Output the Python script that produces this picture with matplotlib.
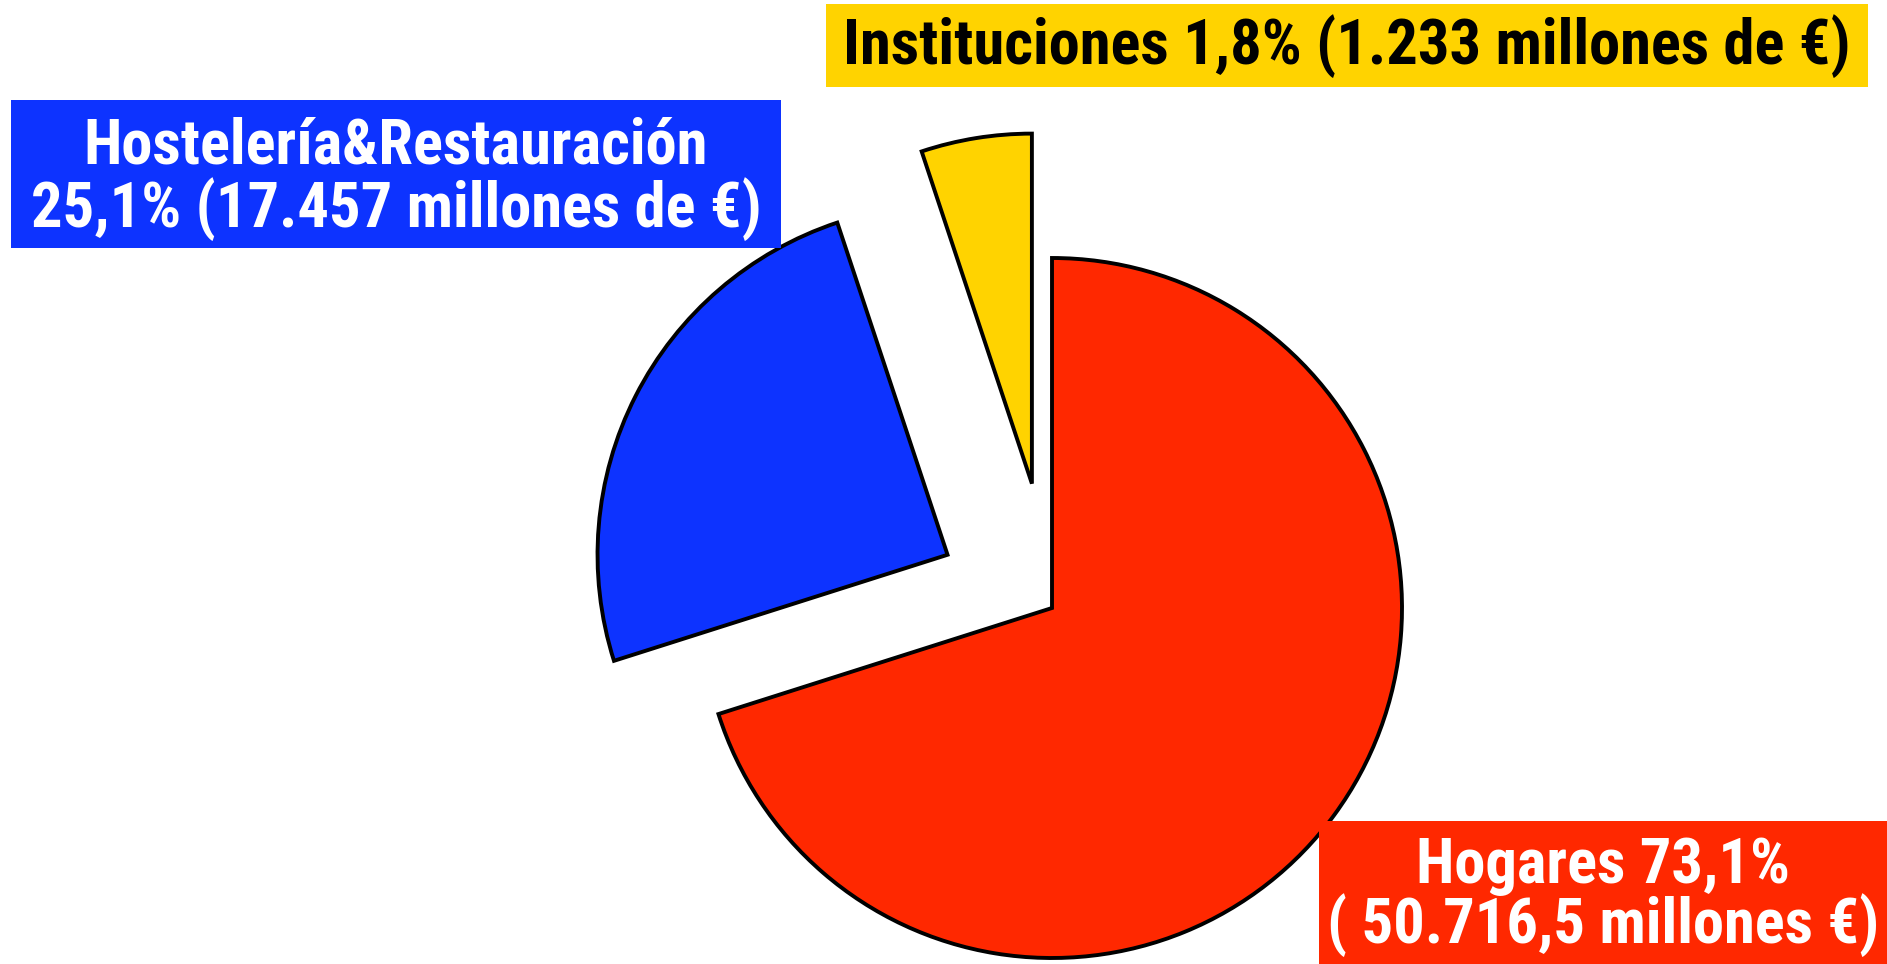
import matplotlib.pyplot as plt
from matplotlib import font_manager
from matplotlib.patches import Rectangle

# slice shares as drawn in the picture (clockwise from 12 o'clock)
sectors = ['Hogares', 'Hostelería&Restauración', 'Instituciones']
shares = [70.1, 24.8, 5.1]
colors = ['#FF2800', '#0D33FF', '#FFD300']
explode = [0.0, 0.335, 0.36]   # fraction of the radius

label_lines = [
    ['Hogares 73,1%', '( 50.716,5 millones €)'],
    ['Hostelería&Restauración', '25,1% (17.457 millones de €)'],
    ['Instituciones 1,8% (1.233 millones de €)'],
]
text_colors = ['white', 'white', 'black']

W, H = 1887, 964
R = 350
# label boxes in pixels from the top left: x0, y0, x1, y1
boxes = [(1319, 821, 1887, 964), (11, 100, 781, 248), (826, 4, 1868, 87)]
line_y = [[866, 925], [146, 209], [46]]

# narrow bold sans, like the original Arial Narrow
available = {f.name for f in font_manager.fontManager.ttflist}
wanted = ['Liberation Sans Narrow', 'Roboto Condensed', 'Archivo Narrow',
          'PT Sans Narrow', 'Sofia Sans Condensed', 'Saira SemiCondensed']
family = [f for f in wanted if f in available][:1] + ['DejaVu Sans']
plt.rcParams['font.family'] = family

fig = plt.figure(figsize=(W / 100, H / 100), dpi=100)
ax = fig.add_axes([0, 0, 1, 1])

ax.pie(
    shares,
    colors=colors,
    explode=[e * R for e in explode],
    startangle=90,
    counterclock=False,
    radius=R,
    center=(1052, H - 608),
    wedgeprops=dict(edgecolor='black', linewidth=2.8, joinstyle='miter'),
)

for box, lines, ys, fc, tc in zip(boxes, label_lines, line_y, colors, text_colors):
    x0, y0, x1, y1 = box
    ax.add_patch(Rectangle((x0, H - y1), x1 - x0, y1 - y0,
                           facecolor=fc, edgecolor='none', zorder=5))
    for line, y in zip(lines, ys):
        ax.text((x0 + x1) / 2, H - y, line, ha='center', va='center',
                color=tc, fontsize=45, fontweight='bold', zorder=6)

ax.set_xlim(0, W)
ax.set_ylim(0, H)
ax.set_aspect('equal')
ax.axis('off')

fig.savefig('out.png', dpi=100)
